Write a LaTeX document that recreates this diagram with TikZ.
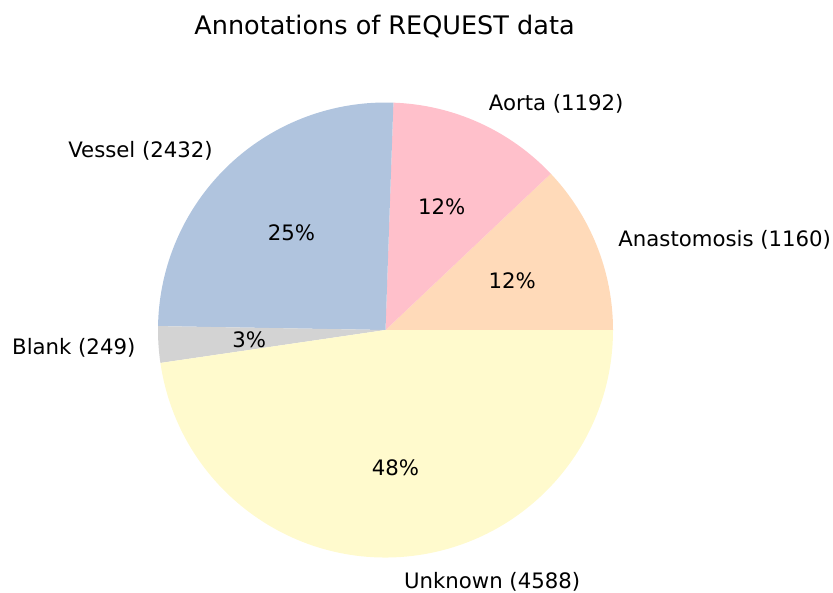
\documentclass[tikz,border=0pt]{standalone}
\usepackage{fontspec}
\setmainfont{DejaVu Sans}
\usetikzlibrary{calc}
\definecolor{peach}{HTML}{FFDAB9}
\definecolor{pinkc}{HTML}{FFC0CB}
\definecolor{steel}{HTML}{B0C4DE}
\definecolor{lgray}{HTML}{D3D3D3}
\definecolor{chiffon}{HTML}{FFFACD}
\begin{document}
\begin{tikzpicture}[x=0.48pt,y=0.48pt,
  lbl/.style={inner sep=0pt,yshift=-0.9pt,font=\fontsize{10.2pt}{12pt}\selectfont},
  pct/.style={inner sep=0pt,yshift=-0.6pt,font=\fontsize{10.2pt}{12pt}\selectfont},
  ttl/.style={inner sep=0pt,yshift=-0.5pt,font=\fontsize{12.25pt}{14pt}\selectfont}]
\useasboundingbox (0,-592) rectangle (833,0);
\coordinate (c) at (385.5,-330);
\def\R{227.5}
% wedges, counter-clockwise from 0 degrees
\fill[peach]   (c) -- ++(0:\R)       arc[start angle=0,       end angle=43.405,  radius=\R] -- cycle;
\fill[pinkc]   (c) -- ++(43.405:\R)  arc[start angle=43.405,  end angle=88.008,  radius=\R] -- cycle;
\fill[steel]   (c) -- ++(88.008:\R)  arc[start angle=88.008,  end angle=179.009, radius=\R] -- cycle;
\fill[lgray]   (c) -- ++(179.009:\R) arc[start angle=179.009, end angle=188.326, radius=\R] -- cycle;
\fill[chiffon] (c) -- ++(188.326:\R) arc[start angle=188.326, end angle=360,     radius=\R] -- cycle;
% percentages at 0.6 R
\node[pct] (p1) at ($(c)+(21.70:136.5)$)  {12\%};
\node[pct] (p2) at ($(c)+(65.71:136.5)$)  {12\%};
\node[pct] (p3) at ($(c)+(133.51:136.5)$) {25\%};
\node[pct] (p4) at ($(c)+(183.67:136.5)$) {3\%};
\node[pct] (p5) at ($(c)+(274.16:136.5)$) {48\%};
% category labels at 1.1 R
\node[lbl,anchor=west] (l1) at ($(c)+(21.70:250.25)$)  {Anastomosis (1160)};
\node[lbl,anchor=west] (l2) at ($(c)+(65.71:250.25)$)  {Aorta (1192)};
\node[lbl,anchor=east] (l3) at ($(c)+(133.51:250.25)$) {Vessel (2432)};
\node[lbl,anchor=east] (l4) at ($(c)+(183.67:250.25)$) {Blank (249)};
\node[lbl,anchor=west] (l5) at ($(c)+(274.16:250.25)$) {Unknown (4588)};
% title
\node[ttl] (t) at (384.5,-25) {Annotations of REQUEST data};
\end{tikzpicture}
\end{document}
